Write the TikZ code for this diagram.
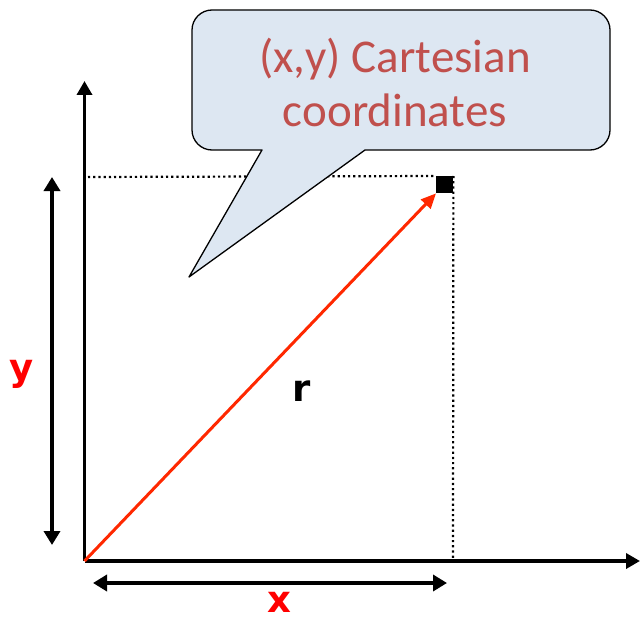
\documentclass[tikz,border=0pt]{standalone}
\usepackage{fontspec}
\setmainfont{Carlito}
\newfontfamily\labelfont{DejaVu Sans}
\usetikzlibrary{arrows.meta}
\definecolor{calloutfill}{RGB}{221,231,242}
\definecolor{callouttext}{RGB}{192,80,77}
\definecolor{vecred}{RGB}{255,40,0}
\definecolor{labred}{RGB}{255,0,0}
\tikzset{
  axis/.style={line width=3.8pt, -{Triangle[length=14pt,width=15pt]}},
  dimarrow/.style={line width=3.8pt, {Triangle[length=14pt,width=16pt]}-{Triangle[length=14pt,width=16pt]}},
  guide/.style={line width=2.2pt, dash pattern=on 2.2pt off 3pt},
  vector/.style={line width=3pt, vecred, -{Triangle[length=15pt,width=13pt]}},
  callout/.style={draw=black, line width=1.3pt, fill=calloutfill, line join=round},
  lab/.style={font=\labelfont\bfseries\fontsize{37}{37}\selectfont, inner sep=0pt},
}
\begin{document}
\begin{tikzpicture}[x=1pt,y=-1pt]
\useasboundingbox (0,0) rectangle (640,623);
% coordinates
\coordinate (O) at (84.5,561);
\coordinate (Ytop) at (84.5,81);
\coordinate (Xend) at (640,561);
\coordinate (Ylo) at (52,545);
\coordinate (Yhi) at (52,177);
\coordinate (Xlo) at (93,583);
\coordinate (Xhi) at (447,583);
\coordinate (Hstart) at (88,177);
\coordinate (Vend) at (453,558);
% point
\node[fill=black, minimum size=17pt, inner sep=0pt, anchor=north west] (P) at (436,176) {};
% dotted guides
\draw[guide] (Hstart) -- (P.north west);
\draw[guide] (P.north east) -- (Vend);
% axes
\draw[axis] (O) -- (Ytop);
\draw[axis] (O) -- (Xend);
% dimension arrows
\draw[dimarrow] (Ylo) -- (Yhi);
\draw[dimarrow] (Xlo) -- (Xhi);
% vector
\draw[vector] (O) -- (P.south west);
% labels
\node[lab, text=labred] (ylab) at (22,374) {y};
\node[lab, text=labred] (xlab) at (279,602) {x};
\node[lab, text=black] (rlab) at (302,391) {r};
% callout
\draw[callout] (262,150) -- (189,277) -- (365,150) -- (590,150)
  .. controls (601,150) and (610,141) .. (610,130) -- (610,30)
  .. controls (610,19) and (601,10) .. (590,10) -- (212,10)
  .. controls (201,10) and (192,19) .. (192,30) -- (192,130)
  .. controls (192,141) and (201,150) .. (212,150) -- cycle;
\node[text=callouttext, font=\fontsize{47}{54}\selectfont, align=center, inner sep=0pt] (ctext) at (395,82) {(x,y) Cartesian\\coordinates};
\end{tikzpicture}
\end{document}
